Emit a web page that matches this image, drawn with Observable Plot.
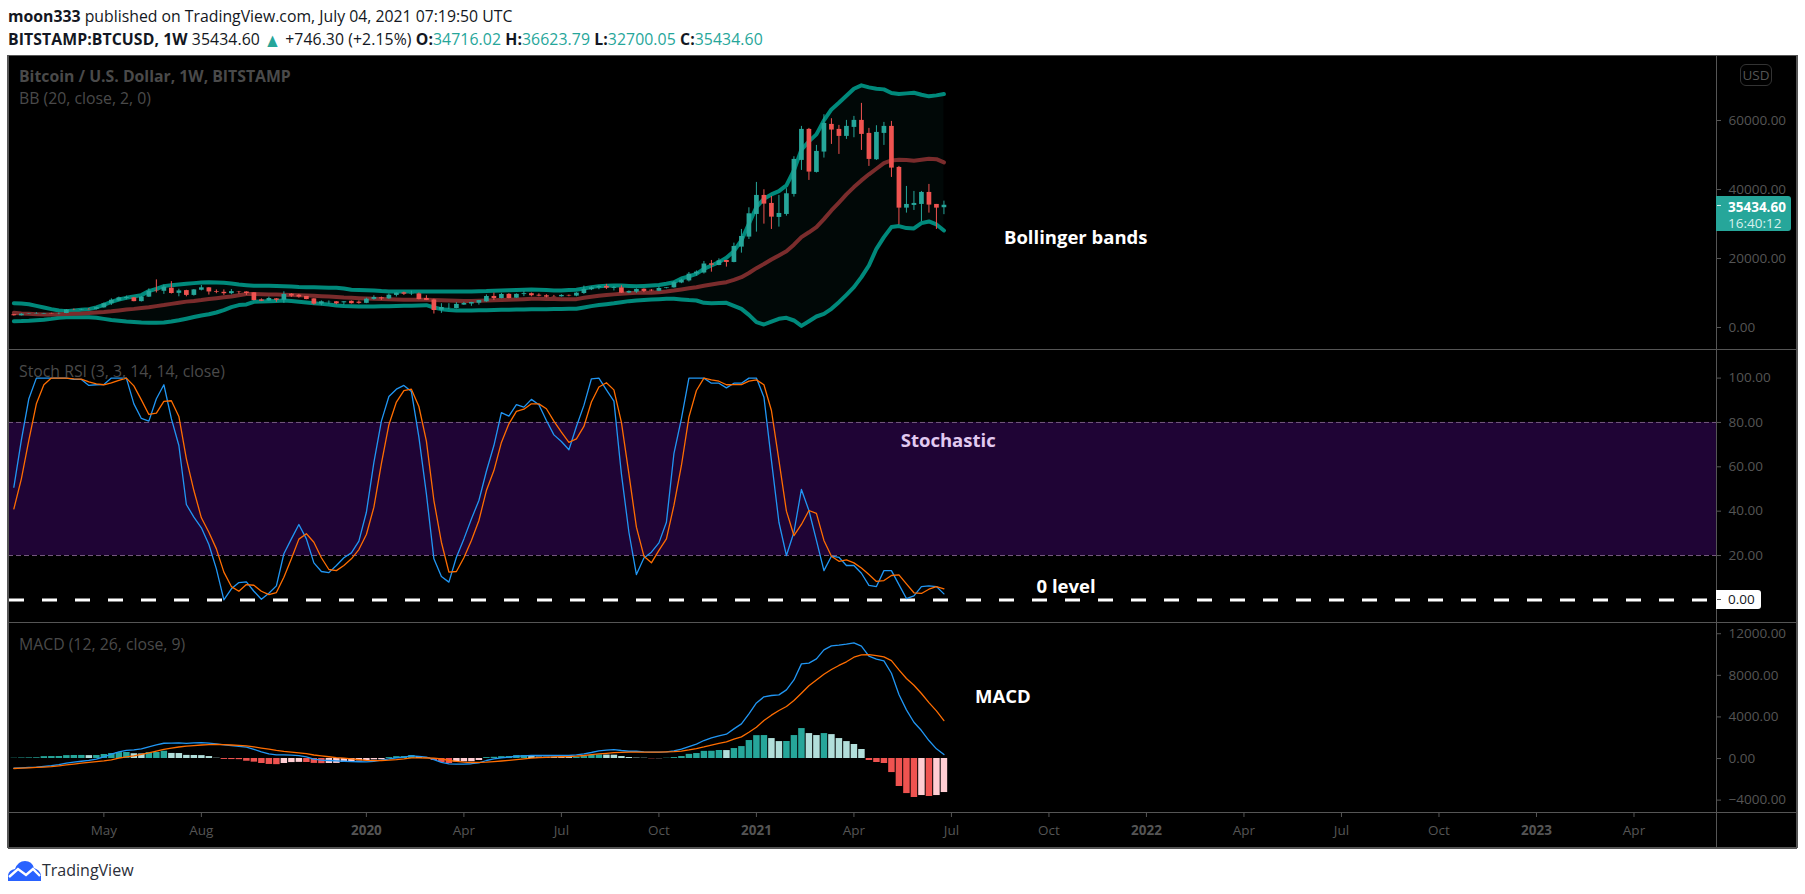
<!DOCTYPE html>
<html>
<head>
<meta charset="utf-8">
<script src="https://cdn.jsdelivr.net/npm/d3@7"></script>
<script src="https://cdn.jsdelivr.net/npm/@observablehq/plot@0.6"></script>
<style>
html,body{margin:0;padding:0;background:#fff;}
#page{position:relative;width:1805px;height:894px;overflow:hidden;font-family:"Open Sans",sans-serif;}
.hd{position:absolute;left:8px;white-space:nowrap;font-size:15.8px;color:#131722;line-height:20px;height:20px;}
.hd b{font-weight:700;}
.hd i{font-style:normal;color:#26a69a;}
.hd i.tri{display:inline-block;font-size:13px;line-height:13px;transform:scale(1.35,1.5);margin:0 2px;}
#panel{position:absolute;left:8px;top:55px;width:1789px;height:793px;background:#000;}
#panel svg{position:absolute;left:0;overflow:visible;}
.line{position:absolute;background:#555;}
.lbl{position:absolute;left:11px;white-space:nowrap;color:#4a4a4a;font-size:15.8px;line-height:18px;}
.tag{position:absolute;left:1708px;border-radius:0 3px 3px 0;font-size:13.5px;line-height:16px;box-sizing:border-box;padding-left:12px;white-space:nowrap;}
#logo{position:absolute;left:8px;top:860px;}
#logotext{position:absolute;left:42px;top:859px;font-size:16px;line-height:22px;color:#2a2e39;}
</style>
</head>
<body>
<div id="page">
  <div class="hd" style="top:6px"><b>moon333</b> published on TradingView.com, July 04, 2021 07:19:50 UTC</div>
  <div class="hd" style="top:29px;letter-spacing:0.08px"><b>BITSTAMP:BTCUSD, 1W</b> 35434.60 <i class="tri">▲</i> +746.30 (+2.15%) <b>O:</b><i>34716.02</i> <b>H:</b><i>36623.79</i> <b>L:</b><i>32700.05</i> <b>C:</b><i>35434.60</i></div>
  <div id="panel"></div>
  <svg id="logo" width="33" height="21" viewBox="0 0 33 21"><path d="M0 21 L0 15 Q1 10 7 9 Q10 1 17 1 Q24 1 26 8 Q32 10 33 15 L33 21 Z" fill="#2962ff"/><path d="M1 17 L10 9 L18 15 L25 9 L32 16" fill="none" stroke="#fff" stroke-width="2.4"/></svg>
  <div id="logotext">TradingView</div>
</div>
<script>
const firstBar = "2019-02-11";
const open = [3720,3400,3850,3900,3900,4050,4000,4060,5100,5000,5200,5250,5700,6900,7700,8400,8600,7500,8800,10700,10500,11400,9900,10700,9300,10800,11500,10400,10200,9800,10300,10300,10050,8000,7700,8300,7900,9650,9350,9000,8300,6800,7350,7450,7150,7600,7350,7000,8150,8600,8300,9300,10050,9700,9750,8400,8000,5000,5600,5500,6500,6800,7050,7450,9000,8400,9600,8500,9550,9800,9350,9200,8950,8900,9300,9100,9850,10950,11500,11900,11300,11500,10000,10250,11100,10800,10500,11300,11500,12900,13500,15500,15800,18450,17980,19430,18850,23300,26200,32770,38280,35960,31900,32770,38570,48430,57420,44950,50850,58870,57420,55390,58000,60030,56260,48620,56260,58290,46400,34600,35380,35670,39150,35670,34716];
const high = [3800,4000,4000,4300,4100,4150,4200,5200,5350,5300,5500,5900,7100,8300,8800,9100,8700,9000,11200,13800,12300,13300,11100,10800,11000,12200,11550,10900,10900,11000,10450,10350,10100,8300,8800,8400,10350,9800,9600,9000,8350,7700,7700,7500,7500,7700,7700,8500,9200,8800,9700,10000,10250,10500,10000,9200,8200,6900,6900,7200,7300,7300,7850,9450,10000,9900,9800,9750,10400,10000,9750,9500,9300,9500,9400,10100,12000,11800,12100,12500,11900,12100,10600,11200,11200,11000,11700,11550,13350,14000,15950,16400,19140,19430,19910,19430,24450,28420,34700,42050,39920,37990,38280,40210,49490,58290,57710,52780,61670,60510,58580,60030,61190,64960,57710,58480,59450,59740,46690,40890,39440,39440,41470,35670,36623];
const low = [3300,3350,3800,3850,3850,3900,3700,4000,4900,4950,5050,5100,5600,6400,7500,8000,7450,7400,8700,10000,9600,9700,8900,8900,9100,10600,9400,9800,9300,9500,9650,9300,7700,7500,7600,7300,7000,8750,8500,8050,6500,6300,6750,6600,6500,6800,6750,6900,7900,7850,8150,8850,9300,9250,8000,7800,3900,4100,5200,5400,6400,6150,6500,7300,7850,8300,8300,8450,8950,8900,8900,8600,8800,8800,8900,8900,9600,10700,10950,11000,10600,9850,9800,9900,10100,10400,10400,11200,11400,12700,13200,14900,15500,16040,17900,17500,18750,21550,25520,27640,29960,28420,29100,32280,37800,45530,42630,44760,49110,53070,50170,54520,55000,51330,46690,48430,52780,43500,29770,33160,33930,30640,33160,28420,32700];
const close = [3400,3850,3950,4000,4050,3950,4050,5100,5050,5150,5150,5750,6900,7900,8600,8700,7500,8800,10500,10600,11700,9850,10600,9300,10900,11500,10300,10200,9800,10400,10200,9850,7830,7600,8400,7900,9570,9100,8800,8100,6770,7450,7400,6850,7450,6900,7000,8200,8700,8300,9350,9950,9650,9800,8100,7850,4930,5800,5650,6700,6950,7250,7800,8990,8400,9570,8400,9600,9800,9200,9100,8800,8850,9300,9150,9950,11000,11500,11850,11400,11550,9950,10450,11000,10450,10600,11300,11500,13000,13700,15450,16050,18400,18060,19330,18850,23490,26390,32960,38280,35770,31990,33060,38760,48720,57420,45050,51040,59160,57230,55390,58290,60030,55970,48720,56550,58290,46200,34600,35670,35960,39150,35480,34600,35434];
const bbUpper = [7050,6960,6760,6280,5800,5320,4930,4730,4930,5120,5320,5800,6570,7440,8120,8600,8990,9380,10540,11210,11990,12280,12470,12660,12860,13050,13150,13050,12950,12760,12470,12280,12080,12080,12080,12000,11950,11850,11750,11700,11650,11600,11550,11500,11300,10950,10850,10780,10730,10550,10440,10440,10440,10440,10440,10440,10440,10440,10440,10440,10440,10440,10500,10550,10650,10730,10800,10900,10950,11020,10950,10850,10730,10750,10850,10920,11300,11700,11990,12100,12150,12180,12050,11950,12050,12180,12300,12660,13100,14200,14800,15560,17010,17980,18950,20200,22130,25230,30060,34900,37310,38570,39530,41180,45530,51520,53940,55970,60030,63220,65150,67180,69210,70180,69600,69210,69020,67960,67670,67860,68050,67470,67000,67280,67670];
const bbBasis = [4250,4050,3950,3850,3780,3800,3850,3880,3950,4050,4200,4350,4500,4700,4950,5200,5400,5650,5850,6200,6500,6850,7200,7500,7700,7950,8250,8500,8750,9000,9350,9700,9700,9650,9600,9550,9500,9420,9350,9280,9180,9080,8980,8850,8700,8600,8480,8400,8310,8250,8180,8100,8040,8020,8020,8050,8000,7920,7830,7760,7700,7700,7780,7850,7900,7980,8030,8100,8200,8300,8300,8280,8250,8220,8210,8220,8600,8900,9200,9420,9600,9760,9950,10050,10100,10100,10250,10440,10700,11020,11350,11690,12080,12470,12800,13140,13800,14590,15800,17200,18400,19720,20900,22130,24000,26190,27600,29100,31400,33930,36200,38570,40700,42630,44400,46010,47650,48430,48620,48550,48330,48600,48910,48800,47850];
const bbLower = [1800,1850,1950,2100,2250,2500,2800,2950,3000,3000,2950,2800,2500,2150,1950,1750,1600,1450,1350,1400,1450,1750,2100,2550,3050,3500,3850,4350,5050,5900,6500,6700,7440,7520,7600,7700,7830,7650,7450,7250,7050,6850,6650,6400,6220,6150,6120,6090,6090,6130,6180,6220,6280,6330,6400,6480,5800,5320,5050,4930,4930,4930,4980,5030,5080,5120,5150,5200,5230,5260,5290,5320,5350,5380,5400,5410,5800,6200,6500,6750,7000,7300,7640,7850,8000,8120,8220,8310,8300,8120,7950,7830,7150,7060,7100,7150,6300,5410,3670,1540,870,1700,2510,2800,2030,480,1830,3190,3960,5410,7340,9470,11690,14590,17980,22810,26190,29100,29390,28810,28710,30250,30740,29870,28130];
const stochK = [50.8,72,90.7,100,100,100,100,100,99.4,99.4,96.7,97,97.1,100,100,100,88.4,81.8,80.6,90.7,97,81.7,69.6,43,37.3,32.5,25,14,0,5,7.8,8.1,3.9,0.3,3,6.3,20.8,27.5,34,27.5,16.7,12.8,12.3,15.5,19,21.2,26.5,39.5,62,80.6,91.7,95,96.7,94,73.4,47.8,18.5,10.5,8,19.2,27.5,36.5,44.8,58,69.6,84.4,82.9,88,86.9,90.4,88,80.9,74.4,71.4,67.7,78.2,87.7,99.7,100,94.7,89.6,56.8,30.5,11.4,18.9,21.5,25.7,35,65.9,81.7,100,100,100,97.7,97.7,95.6,97.7,97.7,100,100,91.4,62.9,35,20,30.5,49.8,40.3,26.8,13.2,19.7,19.2,15.5,15.5,12,6.5,6,13.2,13.2,6.9,0.6,1.8,6,6.3,6,2.7];
const stochD = [41,54.6,72,88.4,97,100,100,100,99.7,99.5,98.3,97.4,97,97.9,99,100,96.5,90.2,83.6,84.2,89.5,89.8,82.7,63.6,49.3,37,30.5,23,12.5,6,3.9,6.9,6.6,3.9,2.4,3.3,10.2,18.5,27.4,29.8,26,19,13.7,13.2,15.5,18.5,22.7,29.5,41.8,61.4,79,89.2,94.4,95,87.2,71.6,44.8,26,12.5,12.8,19,26.8,35.8,49.3,58.3,71,79.4,85,86,88.4,88.4,86.2,80.6,75.6,71,72.6,78.2,89.2,96,97.9,94.7,80,56.8,32.8,19.7,16.7,22.3,27.5,42.6,60.6,82.4,94.4,100,99.2,98.6,97,97.1,97.1,98.6,99.2,97,85.4,62.9,40,29,34,40.3,39,26.8,19.7,17.4,18,16.7,14.4,11.4,8.3,8.7,11,11.3,7.2,3.2,2.9,4.8,6,5];
const macdLine = [-930,-900,-860,-820,-760,-690,-590,-450,-340,-260,-180,-50,150,420,640,790,830,920,1130,1320,1470,1490,1500,1460,1500,1530,1480,1400,1310,1240,1170,1090,880,640,450,350,350,330,270,150,-60,-150,-190,-220,-260,-290,-310,-330,-270,-160,-30,60,130,260,200,130,-100,-380,-520,-540,-540,-500,-420,-190,-30,60,130,220,260,290,290,290,290,290,290,350,450,580,740,800,865,770,700,700,640,610,610,640,740,900,1150,1380,1730,1990,2180,2340,2850,3330,4300,5350,5930,6060,6120,6600,7560,9100,9170,9580,10450,10830,10900,11000,11120,10800,9840,9550,9390,8200,6150,4680,3490,2690,1730,930,385];
const signalLine = [-960,-930,-900,-860,-820,-770,-700,-620,-530,-440,-370,-300,-220,-120,30,150,260,390,540,720,880,1000,1110,1190,1250,1300,1340,1350,1340,1300,1270,1210,1120,1010,900,780,690,620,540,470,340,250,170,90,30,-40,-100,-180,-200,-190,-160,-110,-40,60,60,50,30,-40,-190,-270,-340,-380,-370,-350,-300,-240,-170,-100,-40,30,80,120,150,170,190,230,290,370,450,500,560,590,610,620,620,620,620,640,670,720,830,960,1110,1290,1450,1600,1860,2080,2530,3010,3650,4170,4620,5000,5580,6280,7000,7560,8100,8560,8950,9300,9740,9970,9990,9900,9780,9420,8530,7700,7050,6250,5380,4580,3650];
const macdHist = [30,50,60,70,180,190,195,280,290,295,280,290,385,480,570,580,460,440,570,580,700,490,480,300,290,280,190,30,-90,-100,-110,-260,-350,-480,-570,-590,-480,-390,-370,-380,-470,-490,-480,-470,-380,-320,-230,-210,-130,-120,90,180,190,290,190,60,-190,-380,-480,-330,-320,-310,-190,90,120,180,190,280,290,190,140,130,125,120,115,130,190,290,350,330,320,190,100,40,30,-30,-20,30,90,190,400,480,690,700,770,765,960,1150,1730,2200,2210,1920,1630,1640,2210,2880,2400,2210,2400,2300,1920,1630,1350,870,-190,-380,-480,-1350,-2690,-3370,-3750,-3560,-3650,-3560,-3270];

const xDomain = ["2019-02-06","2023-06-19"];
const monthTickDates = ["2019-05-06","2019-08-05","2020-04-06","2020-07-06","2020-10-05","2021-04-05","2021-07-05","2021-10-04","2022-04-04","2022-07-04","2022-10-03","2023-04-03"];
const monthTickLabels = ["May","Aug","Apr","Jul","Oct","Apr","Jul","Oct","Apr","Jul","Oct","Apr"];
const yearTickDates = ["2020-01-06","2021-01-04","2022-01-03","2023-01-02"];
const yearTickLabels = ["2020","2021","2022","2023"];
const priceTicks = [0,20000,40000,60000];
const stochTicks = [0,20,40,60,80,100];
const macdTicks = [-4000,0,4000,8000,12000];
const notePrice = [{date:"2021-10-29",value:26087,text:"Bollinger bands"}];
const noteStoch = [{date:"2021-07-02",value:72,text:"Stochastic",color:"#e1c9f0"},{date:"2021-10-20",value:6,text:"0 level",color:"#fff"}];
const noteMacd = [{date:"2021-08-22",value:5960,text:"MACD"}];

const D = s => new Date(s + "T00:00:00Z");
const WEEK = 7*864e5;
const dates = open.map((_,i)=>new Date(+D(firstBar)+i*WEEK));
const bars = dates.map((date,i)=>({date,open:open[i],high:high[i],low:low[i],close:close[i],
  up:bbUpper[i],mid:bbBasis[i],lo:bbLower[i],k:stochK[i],d:stochD[i],macd:macdLine[i],sig:signalLine[i],hist:macdHist[i],
  prev:i?macdHist[i-1]:0}));
const UP="#26a69a", DOWN="#ef5350";
const candleColor = b => b.close>=b.open?UP:DOWN;
const histColor = b => b.hist>=0 ? (b.hist>=b.prev?UP:"#b2dfdb") : (b.hist<b.prev?DOWN:"#ffcdd2");
const FONT='"Open Sans",sans-serif';
const TICK="#555", W=1789, MR=81;
const x={type:"utc",domain:xDomain.map(D)};
const fmt = d => d.toFixed(2).replace("-","\u2212");
const yAxis = ticks => Plot.axisY({anchor:"right",ticks,tickFormat:fmt,tickSize:4,tickPadding:8,label:null,fontSize:13.5,stroke:TICK,fill:TICK});
const withDate = a => a.map(n=>({...n,date:D(n.date)}));
const noteMark = (a,extra={}) => Plot.text(withDate(a),{x:"date",y:"value",text:"text",fontSize:18.5,fontWeight:700,dy:1,fill:"color" in a[0]?"color":"#fff",...extra});
const base = {width:W,marginLeft:0,marginRight:MR,marginTop:0,marginBottom:0,
  style:{background:"transparent",fontFamily:FONT},color:{type:"identity"}};

const pricePlot = Plot.plot({...base,height:294,x:{...x,axis:null},y:{domain:[-6377,78840],axis:null},marks:[
  Plot.areaY(bars,{x:"date",y1:"lo",y2:"up",fill:"#010807"}),
  Plot.lineY(bars,{x:"date",y:"up",stroke:"#00897b",strokeWidth:4}),
  Plot.lineY(bars,{x:"date",y:"lo",stroke:"#00897b",strokeWidth:4}),
  Plot.lineY(bars,{x:"date",y:"mid",stroke:"#7a2c2c",strokeWidth:4}),
  Plot.ruleX(bars,{x:"date",y1:"low",y2:"high",stroke:candleColor,strokeWidth:1}),
  Plot.ruleX(bars,{x:"date",y1:"open",y2:"close",stroke:candleColor,strokeWidth:4.7}),
  yAxis(priceTicks),
  noteMark(notePrice)
]});
const stochPlot = Plot.plot({...base,height:273,x:{...x,axis:null},y:{domain:[-10.2,112.9],axis:null},marks:[
  Plot.rectY([{a:20,b:80}],{y1:"a",y2:"b",fill:"#1f0435"}),
  Plot.ruleY([20,80],{stroke:"#75597f",strokeDasharray:"5,3"}),
  Plot.ruleY([0],{stroke:"#fff",strokeWidth:3,strokeDasharray:"15,18",dx:1}),
  Plot.lineY(bars,{x:"date",y:"k",stroke:"#2196f3",strokeWidth:1.3}),
  Plot.lineY(bars,{x:"date",y:"d",stroke:"#ff6d00",strokeWidth:1.3}),
  yAxis(stochTicks),
  noteMark(noteStoch)
]});
const macdPlot = Plot.plot({...base,height:226,marginBottom:36,x:{...x,axis:null},y:{domain:[-5190,13080],axis:null},marks:[
  Plot.ruleX(bars,{x:"date",y1:0,y2:"hist",stroke:histColor,strokeWidth:6.5}),
  Plot.lineY(bars,{x:"date",y:"macd",stroke:"#2196f3",strokeWidth:1.3}),
  Plot.lineY(bars,{x:"date",y:"sig",stroke:"#ff6d00",strokeWidth:1.3}),
  yAxis(macdTicks),
  Plot.axisX({anchor:"bottom",ticks:monthTickDates.map(D),tickFormat:(d,i)=>monthTickLabels[i],tickSize:5,tickPadding:8,label:null,fontSize:13.5,stroke:TICK,fill:TICK}),
  Plot.axisX({anchor:"bottom",ticks:yearTickDates.map(D),tickFormat:(d,i)=>yearTickLabels[i],tickSize:5,tickPadding:8,label:null,fontSize:13.5,fontWeight:700,stroke:TICK,fill:TICK}),
  noteMark(noteMacd)
]});

const panel=document.getElementById("panel");
[[pricePlot,0],[stochPlot,294],[macdPlot,567]].forEach(([p,t])=>{p.style.top=t+"px";panel.appendChild(p);});
const add=(cls,css,html="")=>{const e=document.createElement("div");e.className=cls;e.style.cssText=css;e.innerHTML=html;panel.appendChild(e);};
// borders
add("line","left:0;top:0;width:1789px;height:1px");
add("line","left:0;top:792px;width:1789px;height:1.5px");
add("line","left:-1px;top:0;width:1.5px;height:793px");
add("line","left:1788px;top:0;width:1.5px;height:793px");
add("line","left:1708px;top:0;width:1px;height:793px");
add("line","left:0;top:294px;width:1789px;height:1px");
add("line","left:0;top:567px;width:1789px;height:1px");
add("line","left:0;top:757px;width:1789px;height:1px");
// pane legends
add("lbl","top:12px;font-weight:700","Bitcoin / U.S. Dollar, 1W, BITSTAMP");
add("lbl","top:34px","BB (20, close, 2, 0)");
add("lbl","top:307px","Stoch RSI (3, 3, 14, 14, close)");
add("lbl","top:580px","MACD (12, 26, close, 9)");
// price tags
add("tag","left:1732px;top:9px;width:32px;height:22px;border:1px solid #333;border-radius:6px;padding:0;text-align:center;color:#555;line-height:20px","USD");
add("tag","top:141px;width:75px;height:35px;background:#26a69a;color:#fff;font-weight:700;padding-top:3px",'35434.60<br><span style="font-weight:400;color:#d6f0ed">16:40:12</span>');
add("tag","top:535px;width:45px;height:19px;background:#fff;color:#131722;line-height:19px","0.00");
add("line","left:1709px;top:150px;width:4px;height:1px;background:#d6f0ed");
add("line","left:1709px;top:544px;width:4px;height:1px;background:#555");
</script>
</body>
</html>
